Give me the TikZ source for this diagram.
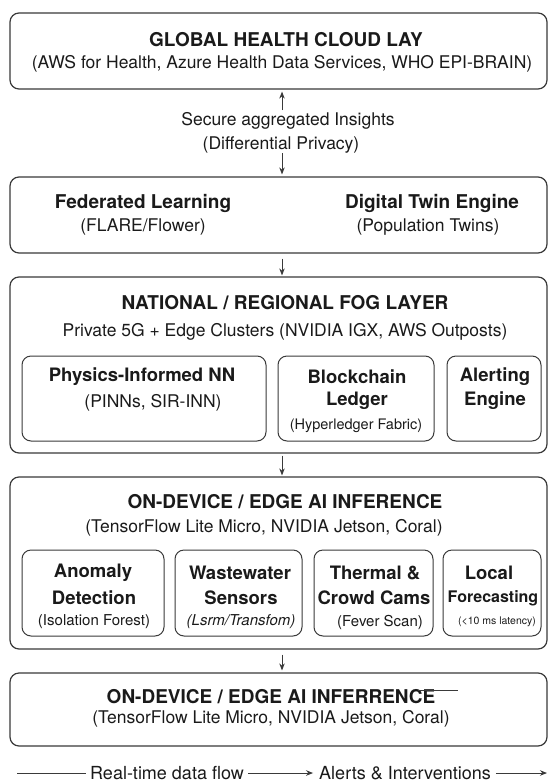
\documentclass[tikz,border=0pt]{standalone}
\usepackage{fontspec}
\setmainfont{TeX Gyre Heros}
\usetikzlibrary{fit,arrows.meta}
\definecolor{ln}{HTML}{3A3A3A}
\definecolor{tx}{HTML}{1A1A1A}
\tikzset{
  layer/.style={draw=ln, line width=1.2pt, rounded corners=9pt, inner sep=0pt},
  inbox/.style={draw=ln, line width=1pt, rounded corners=9pt, inner sep=0pt},
  ttl/.style={text=tx, inner sep=0pt, font=\fontsize{19}{22}\selectfont\bfseries},
  sub/.style={text=tx, inner sep=0pt, font=\fontsize{17.5}{21}\selectfont},
  ibt/.style={text=tx, inner sep=0pt, font=\fontsize{18.5}{21}\selectfont\bfseries},
  sml/.style={text=tx, inner sep=0pt, font=\fontsize{15}{18}\selectfont},
  arr/.style={draw=ln, line width=1pt, -{Stealth[length=7pt,width=5.5pt]}},
  plain/.style={draw=ln, line width=1pt}
}
\begin{document}
\begin{tikzpicture}[x=1pt,y=-1pt]
\useasboundingbox (0,0) rectangle (548,782);
\fill[white] (0,0) rectangle (548,782);

% Layer 1
\node[layer, fit={(10,13)(547,89)}] (L1) {};
\node[ttl] (l1t) at (286,40) {GLOBAL HEALTH CLOUD LAY};
\node[sub] (l1s) at (282,64) {(AWS for Health, Azure Health Data Services, WHO EPI-BRAIN)};

% insights label
\node[sub] (ins1) at (288,121) {Secure aggregated Insights};
\node[sub] (ins2) at (281,145) {(Differential Privacy)};
\coordinate (ax) at (282,0);

% Layer 2
\node[layer, fit={(10,177)(547,253)}] (L2) {};
\node[ttl] (fl1) at (143,203) {Federated Learning};
\node[sub] (fl2) at (143,227) {(FLARE/Flower)};
\node[ttl] (dt1) at (432,203) {Digital Twin Engine};
\node[sub] (dt2) at (428,227) {(Population Twins)};

% Layer 3
\node[layer, fit={(10,277)(547,453)}] (L3) {};
\node[ttl] (l3t) at (285,303) {NATIONAL / REGIONAL FOG LAYER};
\node[sub] (l3s) at (285,332) {Private 5G + Edge Clusters (NVIDIA IGX, AWS Outposts)};
\node[inbox, fit={(22,356)(266,441)}] (P) {};
\node[ibt] (p1) at (142,377) {Physics-Informed NN};
\node[sub] (p2) at (153,403) {(PINNs, SIR-INN)};
\node[inbox, fit={(278,356)(434,441)}] (B) {};
\node[ibt] (b1) at (357,377) {Blockchain};
\node[ibt] (b2) at (357,401) {Ledger};
\node[sml, font=\fontsize{14.5}{17}\selectfont] (b3) at (356,426) {(Hyperledger Fabric)};
\node[inbox, fit={(447,356)(541,441)}] (A) {};
\node[ibt] (a1) at (495,377) {Alerting};
\node[ibt] (a2) at (495,401) {Engine};

% Layer 4
\node[layer, fit={(10,477)(547,649)}] (L4) {};
\node[ttl] (l4t) at (285,502) {ON-DEVICE / EDGE AI INFERENCE};
\node[sub] (l4s) at (264,528) {(TensorFlow Lite Micro, NVIDIA Jetson, Coral)};
\node[inbox, fit={(22,550)(164,636)}] (E1) {};
\node[ibt] (e1a) at (93,573) {Anomaly};
\node[ibt] (e1b) at (94,598) {Detection};
\node[sml] (e1c) at (94,622) {(Isolation Forest)};
\node[inbox, fit={(175,550)(302,636)}] (E2) {};
\node[ibt] (e2a) at (240,573) {Wastewater};
\node[ibt] (e2b) at (241,598) {Sensors};
\node[sml, font=\fontsize{15}{18}\selectfont\itshape] (e2c) at (241,622) {(Lsrm/Transfom)};
\node[inbox, fit={(314,550)(433,636)}] (E3) {};
\node[ibt] (e3a) at (375,573) {Thermal \&};
\node[ibt] (e3b) at (374,598) {Crowd Cams};
\node[sml] (e3c) at (380,622) {(Fever Scan)};
\node[inbox, fit={(443,550)(541,636)}] (E4) {};
\node[ibt] (e4a) at (489,573) {Local};
\node[ibt, font=\fontsize{16}{19}\selectfont\bfseries] (e4b) at (493,598) {Forecasting};
\node[sml, font=\fontsize{10.5}{12}\selectfont] (e4c) at (497,622) {(<10 ms latency)};

% Layer 5
\node[layer, fit={(10,673)(547,746)}] (L5) {};
\node[ttl] (l5t) at (271,697) {ON-DEVICE / EDGE AI INFERRENCE};
\node[sub] (l5s) at (271,719) {(TensorFlow Lite Micro, NVIDIA Jetson, Coral)};
\coordinate (ov1) at (418,690);
\coordinate (ov2) at (458,690);
\draw[plain] (ov1) -- (ov2);

% connectors
\coordinate (c1) at (282,110);
\draw[arr, shorten >=2pt] (c1) -- (c1 |- L1.south);
\coordinate (c2) at (282,153);
\draw[arr, shorten >=2pt] (c2) -- (c2 |- L2.north);
\draw[arr, shorten <=5pt, shorten >=1pt] (ax |- L2.south) -- (ax |- L3.north);
\draw[arr, shorten <=2pt, shorten >=1pt] (ax |- L3.south) -- (ax |- L4.north);
\draw[arr, shorten <=5pt, shorten >=2pt] (ax |- L4.south) -- (ax |- L5.north);

% legend
\node[sub, font=\fontsize{18}{21}\selectfont] (lg1) at (167,773) {Real-time data flow};
\node[sub, font=\fontsize{18}{21}\selectfont] (lg2) at (405,773) {Alerts \& Interventions};
\coordinate (ls) at (17,773);
\coordinate (le) at (547,773);
\draw[plain, shorten >=4pt] (ls) -- (lg1.west);
\draw[arr, shorten <=4pt, shorten >=6pt] (lg1.east) -- (lg2.west);
\draw[arr, shorten <=5pt] (lg2.east) -- (le);
\end{tikzpicture}
\end{document}
